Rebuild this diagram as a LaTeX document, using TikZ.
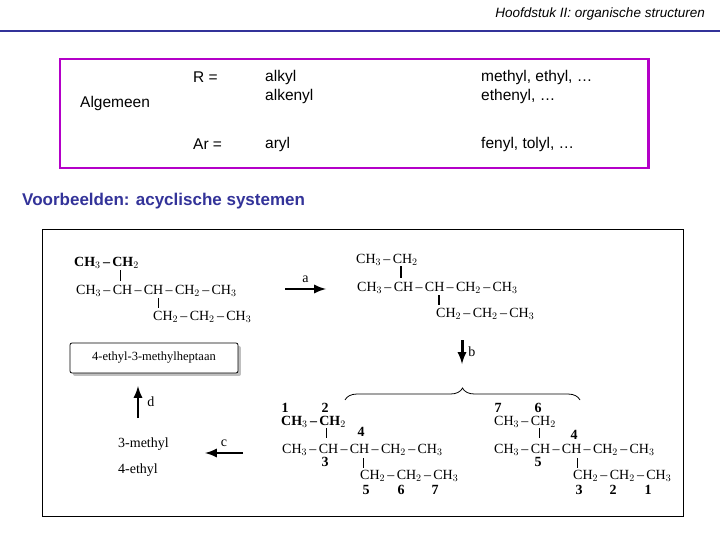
\documentclass[tikz,border=0pt]{standalone}
\usepackage{fontspec}
\setmainfont{Liberation Sans}
\newfontfamily\chemfont{Liberation Serif}
\usetikzlibrary{decorations.pathreplacing,shadows}
\definecolor{navy}{RGB}{51,51,153}
\definecolor{magbox}{RGB}{180,0,200}
\tikzset{
  txt/.style={anchor=west, inner sep=0pt, font=\fontsize{15.5bp}{18bp}\selectfont},
  chem/.style={anchor=west, inner sep=0pt, font=\chemfont\fontsize{14bp}{16bp}\selectfont},
  num/.style={inner sep=0pt, font=\chemfont\bfseries\fontsize{14bp}{16bp}\selectfont},
  bond/.style={line width=1pt},
  reactie/.style={-latex, line width=3pt},
}
\newcommand{\bd}{\,–\,}
\begin{document}
\begin{tikzpicture}[x=1bp,y=-1bp]
    \useasboundingbox (0,0) rectangle (720,540);

    % kop
    \node[anchor=east, inner sep=0pt, font=\itshape\fontsize{13.5bp}{16bp}\selectfont] (kop) at (705,14) {Hoofdstuk II: organische structuren};
    \draw[navy, line width=2.5pt] (0,31) -- (720,31);

    % algemeen
    \draw[magbox, line width=3pt] (60,59) rectangle (648,168);
    \node[txt] (alg) at (80,103) {Algemeen};
    \node[txt] (r) at (193,77) {R =};
    \node[txt] (alkyl) at (265,77) {alkyl};
    \node[txt] (alkenyl) at (265,96) {alkenyl};
    \node[txt] (mee) at (481,77) {methyl, ethyl, …};
    \node[txt] (eth) at (481,96) {ethenyl, …};
    \node[txt] (ar) at (193,144) {Ar =};
    \node[txt] (aryl) at (265,144) {aryl};
    \node[txt] (fen) at (481,144) {fenyl, tolyl, …};

    \node[txt, font=\bfseries\fontsize{17bp}{20bp}\selectfont, text=navy] (vb) at (22,201) {Voorbeelden: acyclische systemen};

    \draw[line width=.8pt] (42,229) rectangle (683,516);

    % molecuul links boven
    \node[chem, font=\chemfont\bfseries\fontsize{14bp}{16bp}\selectfont] (m1a) at (74,263) {CH$_3$\bd CH$_2$};
    \node[chem] (m1b) at (76,291) {CH$_3$\bd CH\bd CH\bd CH$_2$\bd CH$_3$};
    \node[chem] (m1c) at (153,317) {CH$_2$\bd CH$_2$\bd CH$_3$};
    \draw[bond] (120,270) -- (120,281);
    \draw[bond] (158,298) -- (158,308);

    % naam
    \node[draw, rounded corners=2pt, thick, fill=white, drop shadow={shadow xshift=3pt, shadow yshift=-3pt},
          minimum width=168bp, minimum height=30bp, font=\chemfont\fontsize{12.5bp}{14bp}\selectfont] (naam) at (154,358) {4-ethyl-3-methylheptaan};

    % pijlen
    \coordinate (a1) at (285,289); \coordinate (a2) at (326,289);
    \draw[reactie] (a1) -- (a2) node[midway, above=5pt, chem, anchor=south] {a};
    \coordinate (d1) at (138,418); \coordinate (d2) at (138,386);
    \draw[reactie] (d1) -- (d2) node[midway, right=8pt, chem] {d};
    \coordinate (c1) at (243,453); \coordinate (c2) at (205,453);
    \draw[reactie] (c1) -- (c2) node[midway, above=5pt, chem, anchor=south] {c};
    \coordinate (b1) at (462,340); \coordinate (b2) at (462,364);
    \draw[reactie] (b1) -- (b2) node[midway, right=5pt, chem] {b};

    \node[chem] (me) at (118,444) {3-methyl};
    \node[chem] (et) at (118,470) {4-ethyl};

    % molecuul rechts boven
    \node[chem] (m2a) at (356,260) {CH$_3$\bd CH$_2$};
    \node[chem] (m2b) at (357,288) {CH$_3$\bd CH\bd CH\bd CH$_2$\bd CH$_3$};
    \node[chem] (m2c) at (436,314) {CH$_2$\bd CH$_2$\bd CH$_3$};
    \draw[line width=2.5pt] (401,266) -- (401,278);
    \draw[line width=2.5pt] (439,295) -- (439,305);

    % accolade
    \draw[decorate, decoration={brace, amplitude=12pt}, line width=.8pt] (345,400) -- (580,400);

    % molecuul links onder
    \node[num] (n1) at (285,408) {1};
    \node[num] (n2) at (325,408) {2};
    \node[chem, font=\chemfont\bfseries\fontsize{14bp}{16bp}\selectfont] (m3a) at (281,422) {CH$_3$\bd CH$_2$};
    \node[num] (n4) at (361,432) {4};
    \node[chem] (m3b) at (282,450) {CH$_3$\bd CH\bd CH\bd CH$_2$\bd CH$_3$};
    \node[num] (n3) at (325,462) {3};
    \node[chem] (m3c) at (360,476) {CH$_2$\bd CH$_2$\bd CH$_3$};
    \node[num] (n5) at (366,490) {5};
    \node[num] (n6) at (401,490) {6};
    \node[num] (n7) at (435,490) {7};
    \draw[bond] (326,428) -- (326,438);
    \draw[bond] (363,458) -- (363,468);

    % molecuul rechts onder
    \node[num] (r7) at (498,408) {7};
    \node[num] (r6) at (538,408) {6};
    \node[chem] (m4a) at (494,422) {CH$_3$\bd CH$_2$};
    \node[num] (r4) at (574,435) {4};
    \node[chem] (m4b) at (494,450) {CH$_3$\bd CH\bd CH\bd CH$_2$\bd CH$_3$};
    \node[num] (r5) at (538,462) {5};
    \node[chem] (m4c) at (573,476) {CH$_2$\bd CH$_2$\bd CH$_3$};
    \node[num] (r3) at (579,490) {3};
    \node[num] (r2) at (613,490) {2};
    \node[num] (r1) at (648,490) {1};
    \draw[bond] (539,428) -- (539,438);
    \draw[bond] (577,458) -- (577,468);

\end{tikzpicture}
\end{document}
